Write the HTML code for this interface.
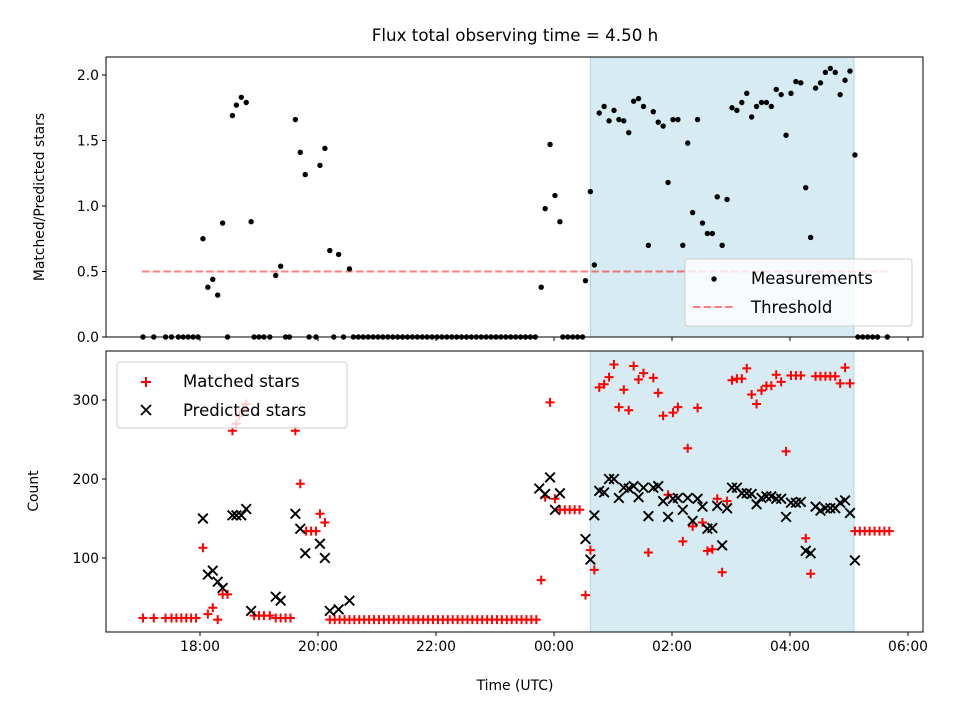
<!DOCTYPE html>
<html><head><meta charset="utf-8"><style>
html,body{margin:0;padding:0;background:#fff}
svg{display:block;font-family:"DejaVu Sans","Liberation Sans",sans-serif}
</style></head><body>
<svg id="chart" width="960" height="720" viewBox="0 0 960 720"></svg>
<script>
// times: minutes since 17:00 UTC
const ratioTimes=[2,13,25,31,38,43,48,53,58,63,68,73,78,83,88,93,97,102,107,112,115,120,125,131,137,142,147,151,157,162,167,171,178,182,187,192,196,201,206,212,
216,221,226,231,236,241,246,251,256,261,266,271,276,281,286,291,296,301,306,311,316,321,326,331,336,341,346,351,356,361,366,371,376,381,386,391,396,401,
407,411,416,421,426,429,434,439,444,449,452,457,461,466,471,476,481,486,491,496,501,506,511,516,521,526,531,536,541,546,551,556,561,566,571,576,581,586,591,596,601,606,611,616,621,626,631,636,641,646,651,656,661,666,671,676,681,686,691,696,701,706,711,716,721,726,729,734,739,744,749,759];
const ratioValues=[0,0,0,0,0,0,0,0,0,0.75,0.38,0.44,0.32,0.87,0,1.69,1.77,1.83,1.79,0.88,0,0,0,0,0.47,0.54,0,0,1.66,1.41,1.24,0,0,1.31,1.44,0.66,0,0.63,0,0.52,
0,0,0,0,0,0,0,0,0,0,0,0,0,0,0,0,0,0,0,0,0,0,0,0,0,0,0,0,0,0,0,0,0,0,0,0,0,0,
0.38,0.98,1.47,1.08,0.88,0,0,0,0,0,0.43,1.11,0.55,1.71,1.76,1.65,1.73,1.66,1.65,1.56,1.80,1.82,1.76,0.70,1.72,1.64,1.61,1.18,1.66,1.66,0.70,1.48,0.95,1.66,0.87,0.79,0.79,1.07,0.70,1.05,1.75,1.73,1.79,1.86,1.68,1.76,1.79,1.79,1.76,1.89,1.85,1.54,1.86,1.95,1.94,1.14,0.76,1.90,1.94,2.02,2.05,2.02,1.85,1.96,2.03,1.39,0,0,0,0,0,0];
const matchedTimes=[2,13,25,31,36,41,46,51,56,63,68,73,78,83,88,93,97,100,104,107,115,120,125,131,137,142,147,152,157,162,168,173,178,182,187,
192,197,202,207,212,217,222,227,232,237,242,247,252,257,262,267,272,277,282,287,292,297,302,307,312,317,322,327,332,337,342,347,352,357,362,367,372,377,382,387,392,397,402,
407,411,416,421,426,431,436,441,446,452,457,461,466,471,476,481,486,491,496,501,506,511,516,521,526,531,536,541,546,551,556,561,566,571,576,581,586,591,596,601,606,611,616,621,626,631,636,641,646,651,656,661,666,671,676,681,686,691,696,701,706,711,716,721,726,731,736,741,746,751,756,761];
const matchedValues=[24,24,24,24,24,24,24,24,24,113,29,37,22,54,54,261,270,280,288,295,27,27,27,27,24,24,24,24,261,194,134,134,134,156,145,
22,22,22,22,22,22,22,22,22,22,22,22,22,22,22,22,22,22,22,22,22,22,22,22,22,22,22,22,22,22,22,22,22,22,22,22,22,22,22,22,22,22,22,
72,177,297,175,161,161,161,161,161,53,110,85,316,320,329,345,291,313,287,343,326,334,107,328,309,280,180,284,291,121,239,140,290,145,109,111,175,82,172,325,327,327,340,307,295,312,318,318,332,323,235,331,331,331,125,80,330,330,330,330,330,321,341,321,134,134,134,134,134,134,134,134];
const predictedTimes=[63,68,73,78,83,93,97,102,107,112,137,142,157,162,167,182,187,192,201,212,405,411,416,421,426,452,457,461,466,471,476,481,486,491,496,501,506,511,516,521,526,531,536,541,546,551,556,561,566,571,576,581,586,591,596,601,606,611,616,621,626,631,636,641,646,651,656,661,666,671,676,681,686,691,696,701,706,711,716,721,726];
const predictedValues=[150,79,84,70,62,154,154,154,162,33,51,46,156,137,106,118,100,33,35,46,188,181,202,161,182,124,98,154,185,183,200,200,176,189,188,191,177,189,153,189,191,172,152,175,176,161,176,147,175,165,137,138,166,116,163,189,189,182,182,181,168,176,178,178,175,175,152,170,170,171,109,106,165,160,163,163,163,170,173,157,97];
const xTickMinutes=[60,180,300,420,540,660,780];
const xTickLabels=["18:00","20:00","22:00","00:00","02:00","04:00","06:00"];
const topTicks=[0,0.5,1.0,1.5,2.0];
const topTickLabels=["0.0","0.5","1.0","1.5","2.0"];
const botTicks=[100,200,300];
const threshold=0.5, thresholdStart=1, thresholdEnd=760;
const shadeStart=457, shadeEnd=725;

const NS="http://www.w3.org/2000/svg";
const svg=document.getElementById('chart');
const L=106,R=923,T1=57,B1=337,T2=351,B2=632;
const X=m=>200+59*(m-60)/60;
const Y1=v=>337-131*v;
const Y2=v=>637-0.79*v;
function mk(tag,attrs,parent){const e=document.createElementNS(NS,tag);for(const k in attrs)e.setAttribute(k,attrs[k]);(parent||svg).appendChild(e);return e;}
function txt(s,attrs){const e=mk('text',attrs);e.textContent=s;return e;}

let e;
e=mk('rect',{x:X(shadeStart),y:T1,width:X(shadeEnd)-X(shadeStart),height:B1-T1,fill:'#add8e6','fill-opacity':0.5,stroke:'#add8e6'});


e=mk('rect',{x:X(shadeStart),y:T2,width:X(shadeEnd)-X(shadeStart),height:B2-T2,fill:'#add8e6','fill-opacity':0.5,stroke:'#add8e6'});



e=mk('line',{x1:X(thresholdStart),x2:X(thresholdEnd),y1:Y1(threshold),y2:Y1(threshold),stroke:'#ff0000','stroke-opacity':0.5,'stroke-width':2,'stroke-dasharray':'7.5,3.2'});



const gm=mk('g',{});


ratioTimes.forEach((t,i)=>{const c=mk('circle',{cx:X(t),cy:Y1(ratioValues[i]),r:2.7,fill:'#000'},gm);

});

const gr=mk('g',{stroke:'#ff0000','stroke-width':2});


matchedTimes.forEach((t,i)=>{const x=X(t),y=Y2(matchedValues[i]);const p=mk('path',{d:`M${x-4.5},${y}H${x+4.5}M${x},${y-4.5}V${y+4.5}`},gr);

});
const gp=mk('g',{stroke:'#000','stroke-width':1.9});


predictedTimes.forEach((t,i)=>{const x=X(t),y=Y2(predictedValues[i]);const p=mk('path',{d:`M${x-4.8},${y-4.8}L${x+4.8},${y+4.8}M${x-4.8},${y+4.8}L${x+4.8},${y-4.8}`},gp);

});

e=mk('rect',{x:L,y:T1,width:R-L,height:B1-T1,fill:'none',stroke:'#000','stroke-width':1});


e=mk('rect',{x:L,y:T2,width:R-L,height:B2-T2,fill:'none',stroke:'#000','stroke-width':1});



xTickMinutes.forEach((m,i)=>{const x=X(m);
mk('line',{x1:x,x2:x,y1:B1,y2:B1+4,stroke:'#000'});
mk('line',{x1:x,x2:x,y1:B2,y2:B2+4,stroke:'#000'});
const t=txt(xTickLabels[i],{x:x,y:B2+19,'text-anchor':'middle','font-size':13.9,fill:'#000'});

});
topTicks.forEach((v,i)=>{const y=Y1(v);mk('line',{x1:L-4,x2:L,y1:y,y2:y,stroke:'#000'});
const t=txt(topTickLabels[i],{x:L-7,y:y+5,'text-anchor':'end','font-size':13.9});

});
botTicks.forEach(v=>{const y=Y2(v);mk('line',{x1:L-4,x2:L,y1:y,y2:y,stroke:'#000'});
const t=txt(String(v),{x:L-7,y:y+5,'text-anchor':'end','font-size':13.9});

});

e=txt('Flux total observing time = 4.50 h',{x:515,y:41,'text-anchor':'middle','font-size':16.7});


e=txt('Matched/Predicted stars',{x:44,y:197,'text-anchor':'middle','font-size':13.9,transform:'rotate(-90 44 197)'});


e=txt('Count',{x:38,y:491,'text-anchor':'middle','font-size':13.9,transform:'rotate(-90 38 491)'});


e=txt('Time (UTC)',{x:515,y:690,'text-anchor':'middle','font-size':13.9});



const lg1=mk('g',{});


mk('rect',{x:685,y:259,width:227,height:67,rx:3,fill:'#fff','fill-opacity':0.8,stroke:'#ccc'},lg1);
mk('circle',{cx:714,cy:279,r:2.7,fill:'#000'},lg1);
txt('Measurements',{x:751,y:284,'font-size':16.5,fill:'#000'});
mk('line',{x1:693,x2:735,y1:307,y2:307,stroke:'#ff0000','stroke-opacity':0.5,'stroke-width':2,'stroke-dasharray':'7.5,3.2'},lg1);
txt('Threshold',{x:751,y:313,'font-size':16.5,fill:'#000'});
const lg2=mk('g',{});


mk('rect',{x:117,y:362,width:230,height:66,rx:3,fill:'#fff','fill-opacity':0.8,stroke:'#ccc'},lg2);
mk('path',{d:'M141,382H151M146,377V387',stroke:'#ff0000','stroke-width':2},lg2);
txt('Matched stars',{x:183,y:387,'font-size':16.5});
mk('path',{d:'M141,405L151,415M141,415L151,405',stroke:'#000','stroke-width':1.9},lg2);
txt('Predicted stars',{x:183,y:416,'font-size':16.5});
</script>
</body></html>
